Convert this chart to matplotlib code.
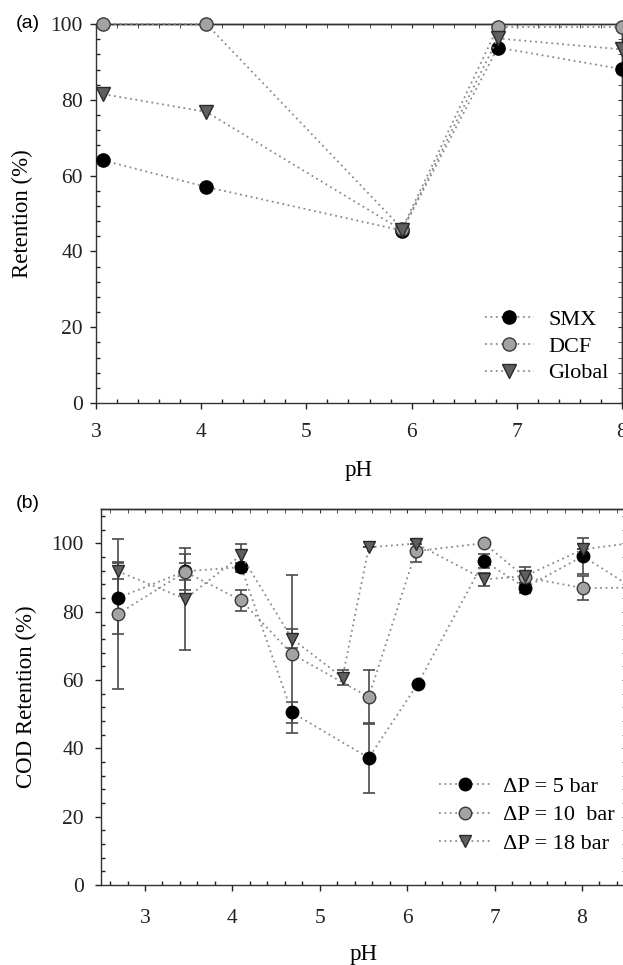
import matplotlib
matplotlib.use("Agg")
import matplotlib.pyplot as plt
from matplotlib.ticker import MultipleLocator

# (a) retention of the two drugs vs feed pH
ph_a = [3.07, 4.05, 5.91, 6.82, 8.0]
smx_a = [64, 57, 45.5, 93.8, 88.1]
dcf_a = [100, 100, 46, 99.2, 99.2]
global_a = [81.5, 76.8, 45.6, 96.2, 93.3]

# (b) COD retention at three transmembrane pressures
ph_5bar = [2.69, 3.46, 4.10, 4.68, 5.56, 6.12, 6.88, 7.35, 8.01, 8.7]
cod_5bar = [84.0, 91.8, 93.0, 50.5, 37.2, 58.8, 94.8, 87.0, 96.2, 85.0]
err_5bar = [10.5, 2.5, 1.3, 3.0, 10.2, 0, 2.0, 1.5, 5.3, 0]

ph_10bar = [2.69, 3.46, 4.10, 4.68, 5.56, 6.10, 6.88, 7.35, 8.01, 8.7]
cod_10bar = [79.3, 91.6, 83.3, 67.6, 55.0, 97.7, 100.0, 90.0, 86.9, 87.0]
err_10bar = [22.0, 5.2, 3.0, 23.0, 8.0, 3.2, 0, 1.5, 3.5, 0]

ph_18bar = [2.69, 3.46, 4.10, 4.68, 5.26, 5.56, 6.10, 6.88, 7.35, 8.01, 8.7]
cod_18bar = [91.8, 83.7, 96.5, 72.1, 60.7, 98.8, 99.9, 89.4, 90.4, 98.2, 100.5]
err_18bar = [2.3, 15.0, 3.3, 2.8, 2.3, 0, 0, 1.8, 2.6, 0, 0]

SERIF = ["Liberation Serif", "DejaVu Serif"]
plt.rcParams["font.family"] = SERIF
plt.rcParams["axes.linewidth"] = 1.0

LINE = dict(color="#8a8a8a", linestyle=(0, (1, 2)), linewidth=1.3)
STYLES = [
    dict(marker="o", markerfacecolor="black", markeredgecolor="black"),
    dict(marker="o", markerfacecolor="#a3a3a3", markeredgecolor="#3a3a3a"),
    dict(marker="v", markerfacecolor="#5f5f5f", markeredgecolor="#2a2a2a"),
]


def style_axes(ax, xmajor, ymajor):
    ax.xaxis.set_major_locator(MultipleLocator(xmajor))
    ax.xaxis.set_minor_locator(MultipleLocator(0.2))
    ax.yaxis.set_major_locator(MultipleLocator(ymajor))
    ax.yaxis.set_minor_locator(MultipleLocator(4))
    ax.tick_params(which="major", direction="out", length=4.5, width=1.0,
                   labelsize=15.5, colors="#222222")
    ax.tick_params(which="minor", direction="in", length=3, width=1.0,
                   colors="#222222")
    for side in ax.spines.values():
        side.set_color("#333333")
    # ticks on the top and right spines point inwards
    top = ax.secondary_xaxis("top")
    top.xaxis.set_major_locator(MultipleLocator(xmajor))
    top.xaxis.set_minor_locator(MultipleLocator(0.2))
    top.tick_params(which="both", direction="in", length=3, labeltop=False,
                    colors="#333333")
    right = ax.secondary_yaxis("right")
    right.yaxis.set_major_locator(MultipleLocator(ymajor))
    right.yaxis.set_minor_locator(MultipleLocator(4))
    right.tick_params(which="both", direction="in", length=3, labelright=False,
                      colors="#333333")


fig = plt.figure(figsize=(6.23, 9.65), dpi=100)

# ---- panel (a) ----
ax1 = fig.add_axes([0.1541, 0.5824, 0.8443, 0.3927])
for y, lab, st in zip([smx_a, dcf_a, global_a], ["SMX", "DCF", "Global"], STYLES):
    ax1.plot(ph_a, y, label=lab, markersize=9.5, markeredgewidth=1.0,
             clip_on=False, zorder=3, **LINE, **st)
ax1.set_xlim(3, 8)
ax1.set_ylim(0, 100)
style_axes(ax1, 1, 20)
ax1.tick_params(axis="x", which="major", pad=10)
ax1.tick_params(axis="y", which="major", pad=5)
ax1.set_xlabel("pH", fontsize=16.5, va="center")
ax1.xaxis.set_label_coords(0.5, -0.179)
ax1.set_ylabel("Retention (%)", fontsize=16.5, va="center")
ax1.yaxis.set_label_coords(-0.1407, 0.5)
ax1.legend(loc="upper left", bbox_to_anchor=(0.7785, 0.6795),
           bbox_transform=fig.transFigure, frameon=False, fontsize=16,
           borderpad=0, borderaxespad=0, handlelength=2.2, handletextpad=0.64,
           labelspacing=0.28)
fig.text(28 / 623, 1 - 24 / 965, "(a)", family=["Liberation Sans", "DejaVu Sans"],
         fontsize=14, ha="center", va="center")

# ---- panel (b) ----
ax2 = fig.add_axes([0.1626, 0.0829, 0.8417, 0.3896])
series_b = [
    (ph_5bar, cod_5bar, err_5bar, "\u0394P = 5 bar"),
    (ph_10bar, cod_10bar, err_10bar, "\u0394P = 10  bar"),
    (ph_18bar, cod_18bar, err_18bar, "\u0394P = 18 bar"),
]
for (x, y, e, lab), st in zip(series_b, STYLES):
    ax2.errorbar(x, y, yerr=e, fmt="none", ecolor="#4a4a4a", elinewidth=1.2,
                 capsize=4, capthick=1.2, zorder=2)
    ax2.plot(x, y, label=lab, markersize=9, markeredgewidth=1.0, zorder=3,
             **LINE, **st)
ax2.set_xlim(2.5, 8.5)
ax2.set_ylim(0, 110)
style_axes(ax2, 1, 20)
ax2.tick_params(axis="x", which="major", pad=13)
ax2.tick_params(axis="y", which="major", pad=8)
ax2.set_xlabel("pH", fontsize=16.5, va="center")
ax2.xaxis.set_label_coords(0.5, -0.186)
ax2.set_ylabel("COD Retention (%)", fontsize=16.5, va="center")
ax2.yaxis.set_label_coords(-0.1436, 0.5)
ax2.legend(loc="upper left", bbox_to_anchor=(0.7047, 0.1955),
           bbox_transform=fig.transFigure, frameon=False, fontsize=16,
           borderpad=0, borderaxespad=0, handlelength=2.35, handletextpad=0.55,
           labelspacing=0.36)
fig.text(28 / 623, 1 - 503 / 965, "(b)", family=["Liberation Sans", "DejaVu Sans"],
         fontsize=14, ha="center", va="center")

fig.savefig("out.png", dpi=100)
